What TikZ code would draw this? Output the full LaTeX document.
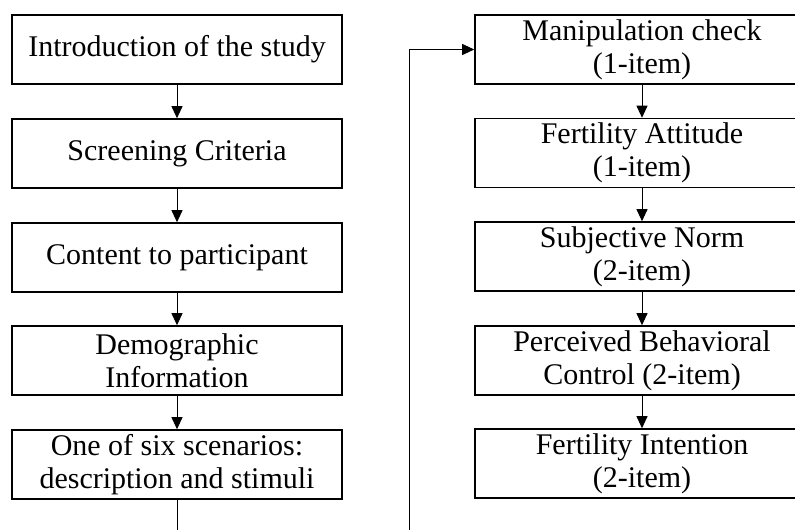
\documentclass[tikz,border=0pt]{standalone}
\usepackage{fontspec}
\setmainfont{Liberation Serif}
\usetikzlibrary{arrows.meta}
\begin{document}
\begin{tikzpicture}[x=1pt,y=-1pt,
  box/.style={draw=black,line width=1.6pt,minimum width=330pt,minimum height=69pt,inner sep=0pt,align=center,font=\fontsize{30}{33}\selectfont},
  conn/.style={draw=black,line width=0.9pt,-{Triangle[length=12pt,width=11pt]}},
  plain/.style={draw=black,line width=0.9pt}]
\useasboundingbox (0,0) rectangle (795,530);
\node[box] (L1) at (177,49.5) {Introduction of the study};
\node[box] (L2) at (177,153.5) {Screening Criteria};
\node[box] (L3) at (177,257.5) {Content to participant};
\node[box] (L4) at (177,360.5) {Demographic\\Information};
\node[box] (L5) at (177,464.5) {One of six scenarios:\\description and stimuli};
\node[box,minimum width=334pt] (R1) at (642,49.5) {Manipulation check\\(1-item)};
\node[box,minimum width=334pt] (R2) at (642,153) {Fertility Attitude\\(1-item)};
\node[box,minimum width=334pt] (R3) at (642,256.5) {Subjective Norm\\(2-item)};
\node[box,minimum width=334pt] (R4) at (642,360.5) {Perceived Behavioral\\Control (2-item)};
\node[box,minimum width=334pt] (R5) at (642,463.5) {Fertility Intention\\(2-item)};
\coordinate (Lend) at (177,540);
\coordinate (Rend) at (409,540);
\draw[conn] (L1) -- (L2);
\draw[conn] (L2) -- (L3);
\draw[conn] (L3) -- (L4);
\draw[conn] (L4) -- (L5);
\draw[plain] (L5) -- (Lend);
\draw[conn] (Rend) |- (R1.west);
\draw[conn] (R1) -- (R2);
\draw[conn] (R2) -- (R3);
\draw[conn] (R3) -- (R4);
\draw[conn] (R4) -- (R5);
\end{tikzpicture}
\end{document}
